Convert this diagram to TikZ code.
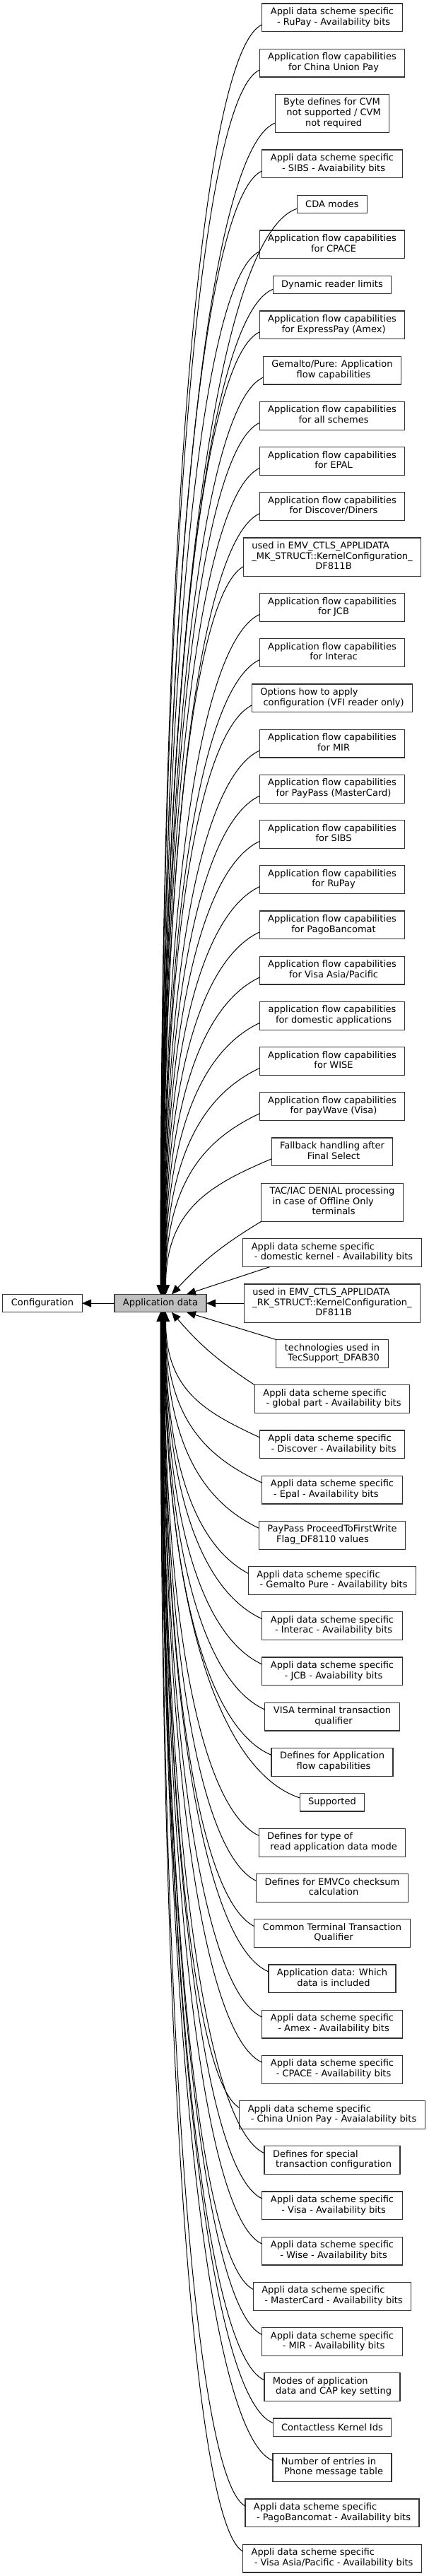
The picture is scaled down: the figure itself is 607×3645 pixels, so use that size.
\documentclass[tikz,border=0pt]{standalone}
\usepackage{fontspec}
\setmainfont{DejaVu Sans}
\usetikzlibrary{positioning,calc,arrows.meta}
\newcommand\lbl[2]{\begin{tabular}{@{}l@{}}#1\\\multicolumn{1}{@{}c@{}}{\ #2}\end{tabular}}
\newcommand\lblx[2]{\begin{tabular}{@{}l@{}}#1\\#2\end{tabular}}
\newcommand\upedge[2]{%
  \draw[edge] let \p1=($(#1.west)!0.5!(#1.south west)$), \p2=([xshift=#2pt]app.north) in
   (\p1) .. controls ({\x2+0.43*(\x1-\x2)},{\y1-min(36pt,0.2*(\y1-\y2))}) and (\x2,{\y1+0.37*(\y2-\y1)}) .. (\p2);}
\newcommand\downedge[2]{%
  \draw[edge] let \p1=($(#1.west)!0.5!(#1.north west)$), \p2=([xshift=#2pt]app.south) in
   (\p1) .. controls ({\x2+0.43*(\x1-\x2)},{\y1+min(36pt,0.2*(\y2-\y1))}) and (\x2,{\y1+0.37*(\y2-\y1)}) .. (\p2);}
\tikzset{
  box/.style={draw=black!80, line width=1.1pt, fill=white, inner xsep=12pt, inner ysep=2pt, outer sep=0pt,
    font=\fontsize{13}{14.6}\selectfont, anchor=north},
  one/.style={box, minimum height=25.4pt},
  two/.style={box, minimum height=39.8pt},
  three/.style={box, minimum height=54.2pt},
  appbox/.style={one, fill=black!25, draw=black!75, anchor=center},
  edge/.style={draw=black, line width=1pt, -{Triangle[length=13pt,width=11pt]}},
}
\begin{document}
\begin{tikzpicture}[x=1pt,y=1pt,node distance=24.4pt]
\useasboundingbox (0,0) rectangle (607,-3645);
\node[two] (n1) at (470,-5) {\lbl{Appli data scheme specific}{- RuPay - Availability bits}};
\node[two,below=of n1] (n2) {\lbl{Application flow capabilities}{for China Union Pay}};
\node[three,below=of n2] (n3) {\lbl{Byte defines for CVM\\\ not supported / CVM}{not required}};
\node[two,below=of n3] (n4) {\lbl{Appli data scheme specific}{- SIBS - Avaiability bits}};
\node[one,below=of n4] (n5) {CDA modes};
\node[two,below=of n5] (n6) {\lbl{Application flow capabilities}{for CPACE}};
\node[one,below=of n6] (n7) {Dynamic reader limits};
\node[two,below=of n7] (n8) {\lbl{Application flow capabilities}{for ExpressPay (Amex)}};
\node[two,below=of n8] (n9) {\lbl{Gemalto/Pure: Application}{flow capabilities}};
\node[two,below=of n9] (n10) {\lbl{Application flow capabilities}{for all schemes}};
\node[two,below=of n10] (n11) {\lbl{Application flow capabilities}{for EPAL}};
\node[two,below=of n11] (n12) {\lbl{Application flow capabilities}{for Discover/Diners}};
\node[three,below=of n12] (n13) {\lbl{used in EMV\_CTLS\_APPLIDATA\\\_MK\_STRUCT::KernelConfiguration\_}{DF811B}};
\node[two,below=of n13] (n14) {\lbl{Application flow capabilities}{for JCB}};
\node[two,below=of n14] (n15) {\lbl{Application flow capabilities}{for Interac}};
\node[two,below=of n15] (n16) {\lbl{Options how to apply}{configuration (VFI reader only)}};
\node[two,below=of n16] (n17) {\lbl{Application flow capabilities}{for MIR}};
\node[two,below=of n17] (n18) {\lbl{Application flow capabilities}{for PayPass (MasterCard)}};
\node[two,below=of n18] (n19) {\lbl{Application flow capabilities}{for SIBS}};
\node[two,below=of n19] (n20) {\lbl{Application flow capabilities}{for RuPay}};
\node[two,below=of n20] (n21) {\lbl{Application flow capabilities}{for PagoBancomat}};
\node[two,below=of n21] (n22) {\lbl{Application flow capabilities}{for Visa Asia/Pacific}};
\node[two,below=of n22] (n23) {\lbl{application flow capabilities}{for domestic applications}};
\node[two,below=of n23] (n24) {\lbl{Application flow capabilities}{for WISE}};
\node[two,below=of n24] (n25) {\lbl{Application flow capabilities}{for payWave (Visa)}};
\node[two,below=of n25] (n26) {\lbl{Fallback handling after}{Final Select}};
\node[three,below=of n26] (n27) {\lbl{TAC/IAC DENIAL processing\\\ in case of Offline Only}{terminals}};
\node[two,below=of n27] (n28) {\lbl{Appli data scheme specific}{- domestic kernel - Availability bits}};
\node[three,below=of n28] (n29) {\lbl{used in EMV\_CTLS\_APPLIDATA\\\_RK\_STRUCT::KernelConfiguration\_}{DF811B}};
\node[two,below=of n29] (n30) {\lbl{technologies used in}{TecSupport\_DFAB30}};
\node[two,below=of n30] (n31) {\lbl{Appli data scheme specific}{- global part - Availability bits}};
\node[two,below=of n31] (n32) {\lbl{Appli data scheme specific}{- Discover - Availability bits}};
\node[two,below=of n32] (n33) {\lblx{Appli data scheme specific}{\ - Epal - Availability bits}};
\node[two,below=of n33] (n34) {\lblx{PayPass ProceedToFirstWrite}{\hspace*{12.7pt}Flag\_DF8110 values}};
\node[two,below=of n34] (n35) {\lbl{Appli data scheme specific}{- Gemalto Pure - Availability bits}};
\node[two,below=of n35] (n36) {\lbl{Appli data scheme specific}{- Interac - Availability bits}};
\node[two,below=of n36] (n37) {\lbl{Appli data scheme specific}{- JCB - Avaiability bits}};
\node[two,below=of n37] (n38) {\lbl{VISA terminal transaction}{qualifier}};
\node[two,below=of n38] (n39) {\lbl{Defines for Application}{flow capabilities}};
\node[one,below=of n39] (n40) {Supported};
\node[two,below=of n40] (n41) {\lbl{Defines for type of}{read application data mode}};
\node[two,below=of n41] (n42) {\lbl{Defines for EMVCo checksum}{calculation}};
\node[two,below=of n42] (n43) {\lbl{Common Terminal Transaction}{Qualifier}};
\node[two,below=of n43] (n44) {\lbl{Application data: Which}{data is included}};
\node[two,below=of n44] (n45) {\lbl{Appli data scheme specific}{- Amex - Availability bits}};
\node[two,below=of n45] (n46) {\lbl{Appli data scheme specific}{- CPACE - Availability bits}};
\node[two,below=of n46] (n47) {\lbl{Appli data scheme specific}{- China Union Pay - Avaialability bits}};
\node[two,below=of n47] (n48) {\lbl{Defines for special}{transaction configuration}};
\node[two,below=of n48] (n49) {\lbl{Appli data scheme specific}{- Visa - Availability bits}};
\node[two,below=of n49] (n50) {\lbl{Appli data scheme specific}{- Wise - Availability bits}};
\node[two,below=of n50] (n51) {\lbl{Appli data scheme specific}{- MasterCard - Availability bits}};
\node[two,below=of n51] (n52) {\lbl{Appli data scheme specific}{- MIR - Availability bits}};
\node[two,below=of n52] (n53) {\lbl{Modes of application}{data and CAP key setting}};
\node[one,below=of n53] (n54) {Contactless Kernel Ids};
\node[two,below=of n54] (n55) {\lbl{Number of entries in}{Phone message table}};
\node[two,below=of n55] (n56) {\lbl{Appli data scheme specific}{- PagoBancomat - Availability bits}};
\node[two,below=of n56] (n57) {\lbl{Appli data scheme specific}{- Visa Asia/Pacific - Availability bits}};
\node[appbox] (app) at (227,0 |- n29) {Application data};
\node[one,anchor=center] (conf) at (60,0 |- app) {Configuration};
\draw[edge] (app.west) -- (conf.east);
\foreach \k in {1,...,26} {\pgfmathsetmacro\s{0.3*(\k-1)}\upedge{n\k}{\s}}
\foreach \k in {32,...,57} {\pgfmathsetmacro\s{0.3*(57-\k)}\downedge{n\k}{\s}}
\draw[edge] (n27.south west) to[bend right=8] ([xshift=16pt]app.north);
\draw[edge] ($(n28.south west)!0.15!(n28.south east)$) -- ([xshift=-28pt]app.north east);
\draw[edge] (n29.west) -- (app.east);
\draw[edge] (n30.north west) -- ([xshift=-28pt]app.south east);
\draw[edge] (n31.north west) to[bend left=8] ([xshift=16pt]app.south);
\end{tikzpicture}
\end{document}
